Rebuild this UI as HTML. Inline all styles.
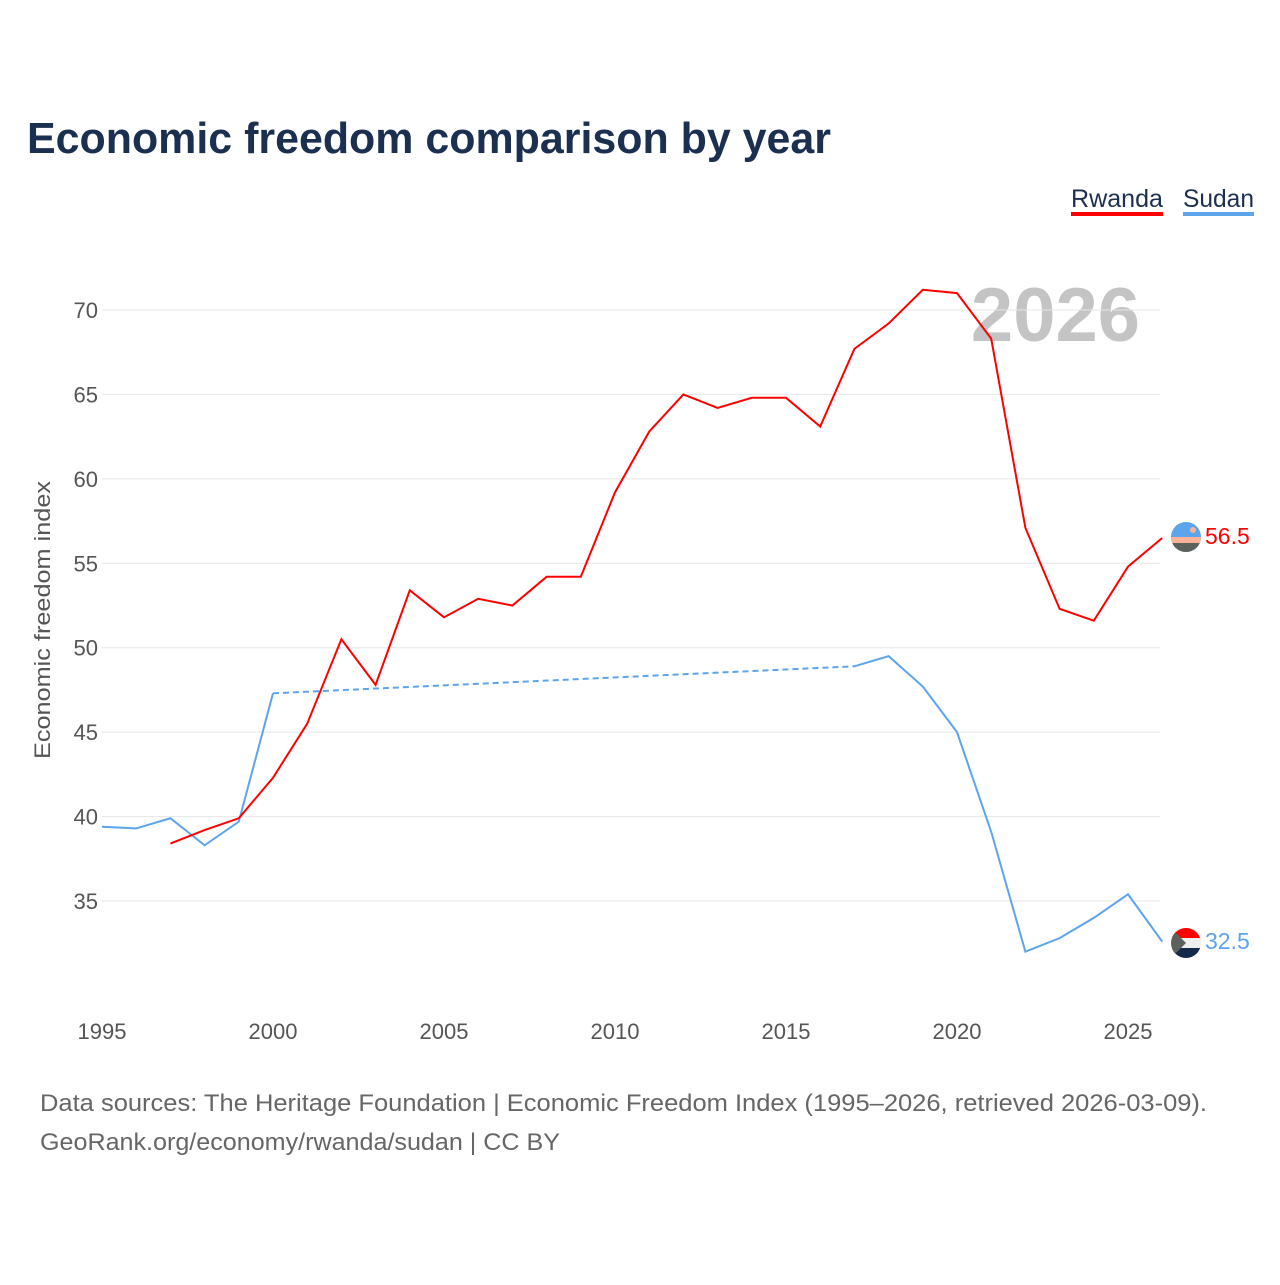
<!DOCTYPE html>
<html><head><meta charset="utf-8"><style>
body{margin:0;background:#fff;font-family:"Liberation Sans",sans-serif}
svg text{font-family:"Liberation Sans",sans-serif}
</style></head><body>
<svg width="1280" height="1280" viewBox="0 0 1280 1280">
<defs>
<clipPath id="c1"><circle cx="1186" cy="537" r="15"/></clipPath>
<clipPath id="c2"><circle cx="1186" cy="943" r="15"/></clipPath>
</defs>
<text x="27" y="153" font-size="44" font-weight="bold" fill="#1b2f50" textLength="804" lengthAdjust="spacingAndGlyphs">Economic freedom comparison by year</text>
<g><text x="1071" y="207" font-size="25" fill="#1b2f50" textLength="92" lengthAdjust="spacingAndGlyphs">Rwanda</text><rect x="1071" y="212" width="92" height="4" fill="#ff0000"/></g>
<g><text x="1183" y="207" font-size="25" fill="#1b2f50" textLength="71" lengthAdjust="spacingAndGlyphs">Sudan</text><rect x="1183" y="212" width="71" height="4" fill="#5ca4ec"/></g>
<text x="1140" y="341" text-anchor="end" font-size="76" font-weight="bold" fill="#c4c4c4">2026</text>
<g id="grid"></g><g id="axes"></g><g id="series"></g>
<text transform="translate(50,620) rotate(-90)" text-anchor="middle" font-size="22" fill="#555" textLength="278" lengthAdjust="spacingAndGlyphs">Economic freedom index</text>
<g clip-path="url(#c1)"><rect x="1170" y="521" width="32" height="32" fill="#5ca4ec"/><rect x="1170" y="537" width="32" height="6" fill="#fbb298"/><rect x="1170" y="543" width="32" height="10" fill="#5d615c"/><circle cx="1193" cy="530" r="3" fill="#fbb298"/></g>
<text x="1205" y="544" font-size="23" fill="#ff0000">56.5</text>
<g clip-path="url(#c2)"><rect x="1170" y="927" width="32" height="11" fill="#ff0000"/><rect x="1170" y="938" width="32" height="10" fill="#eee"/><rect x="1170" y="948" width="32" height="11" fill="#152a4b"/><polygon points="1170,927 1186,943 1170,959" fill="#5d615c"/></g>
<text x="1205" y="949" font-size="23" fill="#5ca4ec">32.5</text>
<text x="40" y="1111" font-size="24" fill="#666" textLength="1167" lengthAdjust="spacingAndGlyphs">Data sources: The Heritage Foundation | Economic Freedom Index (1995–2026, retrieved 2026-03-09).</text>
<text x="40" y="1150" font-size="24" fill="#666" textLength="520" lengthAdjust="spacingAndGlyphs">GeoRank.org/economy/rwanda/sudan | CC BY</text>
</svg>
<script>
const years=[1995,1996,1997,1998,1999,2000,2001,2002,2003,2004,2005,2006,2007,2008,2009,2010,2011,2012,2013,2014,2015,2016,2017,2018,2019,2020,2021,2022,2023,2024,2025,2026];
const rwanda=[null,null,38.4,39.2,39.9,42.3,45.5,50.5,47.8,53.4,51.8,52.9,52.5,54.2,54.2,59.2,62.8,65.0,64.2,64.8,64.8,63.1,67.7,69.2,71.2,71.0,68.3,57.1,52.3,51.6,54.8,56.5];
const sudan=[39.4,39.3,39.9,38.3,39.7,47.3,null,null,null,null,null,null,null,null,null,null,null,null,null,null,null,null,48.9,49.5,47.7,45.0,39.1,32.0,32.8,34.0,35.4,32.6];
const yTicks=[35,40,45,50,55,60,65,70];
const xTicks=[1995,2000,2005,2010,2015,2020,2025];
const NS="http://www.w3.org/2000/svg";
const X=y=>102+(y-1995)*34.2;
const Y=v=>310+(70-v)*16.886;
function mk(t,a,p){const e=document.createElementNS(NS,t);for(const k in a)e.setAttribute(k,a[k]);p.appendChild(e);return e;}
const grid=document.getElementById('grid'),axes=document.getElementById('axes'),ser=document.getElementById('series');
yTicks.forEach(v=>{
 const l=mk('line',{x1:102,x2:1160,y1:Y(v),y2:Y(v),stroke:'#e6e6e6','stroke-width':1},grid);
 
 
 const t=mk('text',{x:98,y:Y(v)+8,'text-anchor':'end','font-size':22,fill:'#555'},axes);t.textContent=v;
 
 
});
xTicks.forEach(y=>{
 const t=mk('text',{x:X(y),y:1039,'text-anchor':'middle','font-size':22,fill:'#555'},axes);t.textContent=y;
 
 
});
function draw(vals,color,name){
 let segs=[],cur=[];
 vals.forEach((v,i)=>{if(v==null){if(cur.length)segs.push(cur);cur=[];}else cur.push([X(years[i]),Y(v)]);});
 if(cur.length)segs.push(cur);
 for(let s=0;s<segs.length;s++){
  const p=mk('polyline',{points:segs[s].map(q=>q.join(',')).join(' '),fill:'none',stroke:color,'stroke-width':2},ser);
  
  
  if(s<segs.length-1){
   const a=segs[s][segs[s].length-1],b=segs[s+1][0];
   const d=mk('line',{x1:a[0],y1:a[1],x2:b[0],y2:b[1],stroke:color,'stroke-width':2,'stroke-dasharray':'6,4'},ser);
   
   
  }
 }
}
draw(sudan,'#5ca4ec','sudan');
draw(rwanda,'#ff0000','rwanda');
</script>
</body></html>
